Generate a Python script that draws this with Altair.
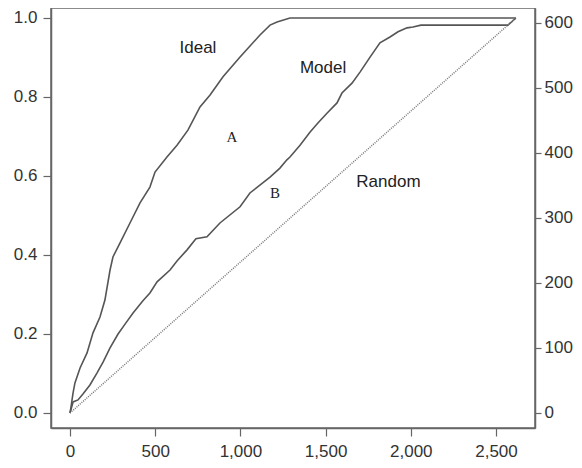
import altair as alt
import pandas as pd

# ---- data ----
ideal_x = [0, 6, 12, 18, 29, 59, 100, 135, 176, 205, 235, 252, 293, 352, 411, 469, 499,
           569, 628, 692, 763, 822, 898, 998, 1115, 1174, 1215, 1291, 2617]
ideal_y = [0, 0.015, 0.033, 0.051, 0.076, 0.114, 0.152, 0.203, 0.243, 0.286, 0.362, 0.395,
           0.430, 0.481, 0.532, 0.572, 0.610, 0.648, 0.678, 0.716, 0.775, 0.805, 0.851,
           0.901, 0.957, 0.982, 0.990, 1.0, 1.0]

model_x = [0, 18, 47, 76, 117, 158, 194, 235, 282, 323, 370, 428, 469, 511, 587, 628, 687,
           739, 804, 880, 998, 1056, 1174, 1232, 1273, 1291, 1350, 1408, 1455, 1508, 1567,
           1596, 1655, 1702, 1761, 1819, 1878, 1925, 1978, 2013, 2060, 2570, 2617]
model_y = [0, 0.028, 0.033, 0.048, 0.071, 0.101, 0.129, 0.165, 0.200, 0.225, 0.253, 0.284,
           0.304, 0.332, 0.362, 0.385, 0.413, 0.441, 0.446, 0.481, 0.522, 0.557, 0.597,
           0.620, 0.641, 0.648, 0.678, 0.711, 0.734, 0.759, 0.785, 0.810, 0.835, 0.863,
           0.901, 0.937, 0.952, 0.965, 0.975, 0.977, 0.982, 0.982, 1.0]

random_x = [0, 2617]
random_y = [0, 1.0]

total_positives = 607  # right-axis count corresponding to 1.0

sans_labels = ["Ideal", "Model", "Random"]
sans_x = [751, 1485, 1869]
sans_y = [0.924, 0.873, 0.585]

serif_labels = ["A", "B"]
serif_x = [951, 1203]
serif_y = [0.699, 0.557]

x_ticks = [0, 500, 1000, 1500, 2000, 2500]
y_ticks = [0.0, 0.2, 0.4, 0.6, 0.8, 1.0]
r_ticks = [0, 100, 200, 300, 400, 500, 600]

# ---- tables ----
ideal_df = pd.DataFrame({"x": ideal_x, "y": ideal_y})
model_df = pd.DataFrame({"x": model_x, "y": model_y})
rand_df = pd.DataFrame({"x": random_x, "y": random_y})
sans_df = pd.DataFrame({"label": sans_labels, "x": sans_x, "y": sans_y})
serif_df = pd.DataFrame({"label": serif_labels, "x": serif_x, "y": serif_y})

y_lo, y_hi = -0.038, 1.0253
xscale = alt.Scale(domain=[-111.5, 2729], nice=False, zero=False)
yscale = alt.Scale(domain=[y_lo, y_hi], nice=False, zero=False)
rscale = alt.Scale(domain=[y_lo * total_positives, y_hi * total_positives], nice=False, zero=False)

LINE = "#555555"

x_axis = alt.Axis(values=x_ticks, format=",d", tickSize=8, labelPadding=7, title=None)
y_axis = alt.Axis(values=y_ticks, format=".1f", tickSize=8, labelPadding=6, title=None)
r_axis = alt.Axis(values=r_ticks, format="d", orient="right", tickSize=6, labelPadding=3, title=None)

ideal = alt.Chart(ideal_df).mark_line(color=LINE, strokeWidth=1.6).encode(
    x=alt.X("x:Q", scale=xscale, axis=x_axis),
    y=alt.Y("y:Q", scale=yscale, axis=y_axis),
)
model = alt.Chart(model_df).mark_line(color=LINE, strokeWidth=1.6).encode(
    x=alt.X("x:Q", scale=xscale),
    y=alt.Y("y:Q", scale=yscale),
)
rand = alt.Chart(rand_df).mark_line(color="#777777", strokeWidth=1.5, strokeDash=[1, 1.2]).encode(
    x=alt.X("x:Q", scale=xscale),
    y=alt.Y("y:Q", scale=yscale),
)
sans = alt.Chart(sans_df).mark_text(font="Liberation Sans", fontSize=17, color="#222222").encode(
    x=alt.X("x:Q", scale=xscale),
    y=alt.Y("y:Q", scale=yscale),
    text="label:N",
)
serif = alt.Chart(serif_df).mark_text(font="Liberation Serif", fontSize=15, color="#222222").encode(
    x=alt.X("x:Q", scale=xscale),
    y=alt.Y("y:Q", scale=yscale),
    text="label:N",
)

left_layer = alt.layer(ideal, model, rand, sans, serif)

right_layer = alt.Chart(rand_df).transform_calculate(
    cnt=f"datum.y * {total_positives}"
).mark_line(opacity=0).encode(
    x=alt.X("x:Q", scale=xscale),
    y=alt.Y("cnt:Q", scale=rscale, axis=r_axis),
)

chart = alt.layer(left_layer, right_layer).resolve_scale(y="independent").properties(
    width=484,
    height=420,
    autosize=alt.AutoSizeParams(type="none"),
    padding={"left": 43, "top": 0, "right": 39, "bottom": 32},
).configure_axis(
    grid=False,
    labelFont="Liberation Sans",
    labelFontSize=17,
    labelColor="#333333",
    domainColor="#666666",
    domainWidth=1.5,
    tickColor="#666666",
    tickWidth=1.2,
).configure_view(
    stroke="#666666",
    strokeWidth=1.5,
)

chart.save("out.html", embed_options={"renderer": "svg", "actions": False})
